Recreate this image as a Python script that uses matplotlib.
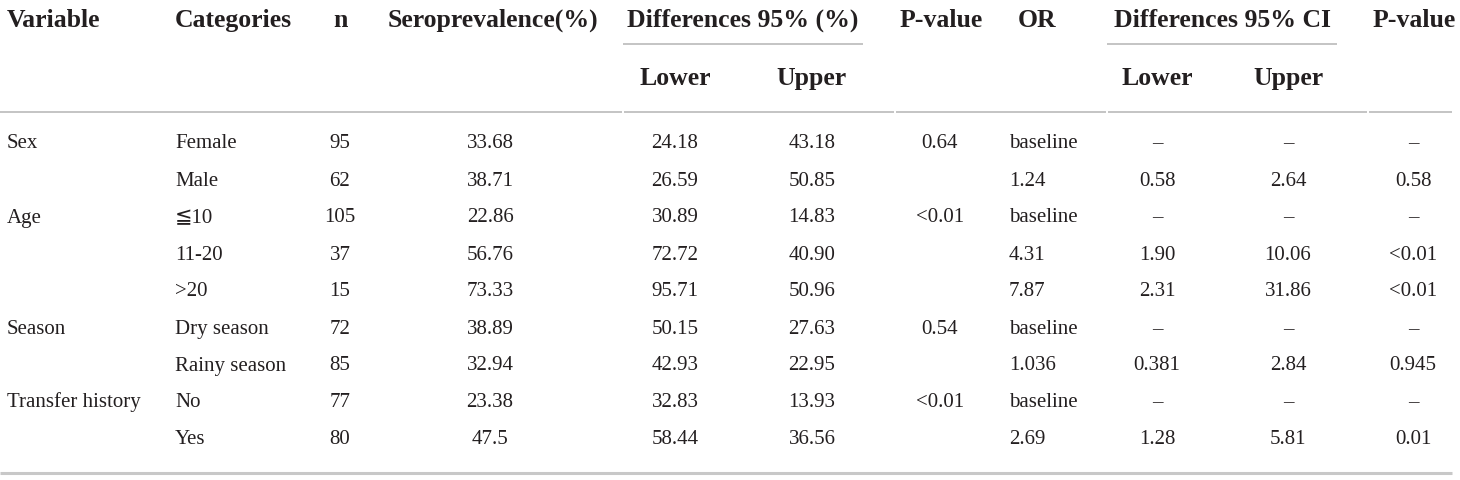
import matplotlib.pyplot as plt

# table contents
variables = ['Sex', '', 'Age', '', '', 'Season', '', 'Transfer history', '']
categories = ['Female', 'Male', '≦10', '11-20', '>20', 'Dry season', 'Rainy season', 'No', 'Yes']
n = ['95', '62', '105', '37', '15', '72', '85', '77', '80']
seroprev = ['33.68', '38.71', '22.86', '56.76', '73.33', '38.89', '32.94', '23.38', '47.5']
diff_lower = ['24.18', '26.59', '30.89', '72.72', '95.71', '50.15', '42.93', '32.83', '58.44']
diff_upper = ['43.18', '50.85', '14.83', '40.90', '50.96', '27.63', '22.95', '13.93', '36.56']
p_value = ['0.64', '', '<0.01', '', '', '0.54', '', '<0.01', '']
odds_ratio = ['baseline', '1.24', 'baseline', '4.31', '7.87', 'baseline', '1.036', 'baseline', '2.69']
ci_lower = ['–', '0.58', '–', '1.90', '2.31', '–', '0.381', '–', '1.28']
ci_upper = ['–', '2.64', '–', '10.06', '31.86', '–', '2.84', '–', '5.81']
p_value2 = ['–', '0.58', '–', '<0.01', '<0.01', '–', '0.945', '–', '0.01']

headers = ['Variable', 'Categories', 'n', 'Seroprevalence(%)', 'Differences 95% (%)',
           'P-value', 'OR', 'Differences 95% CI', 'P-value']
subheaders = ['Lower', 'Upper', 'Lower', 'Upper']

plt.rcParams['font.family'] = ['Liberation Serif', 'DejaVu Serif', 'DejaVu Sans']
ink = '#231f20'
rule = '#b4b4b4'
fs_body = 15
fs_head = 18.5

fig = plt.figure(figsize=(14.6, 4.8), dpi=100)
ax = fig.add_axes([0, 0, 1, 1])
ax.set_xlim(0, 1460)
ax.set_ylim(480, 0)
ax.axis('off')

# column layout: (x, alignment)
cols = [(7, 'left'), (175, 'left'), (340, 'center'), (490, 'center'), (675, 'center'),
        (812, 'center'), (940, 'center'), (1009, 'left'), (1157, 'center'),
        (1288, 'center'), (1413, 'center')]
data = [variables, categories, n, seroprev, diff_lower, diff_upper, p_value,
        odds_ratio, ci_lower, ci_upper, p_value2]

# header row
head_x = [(7, 'left'), (175, 'left'), (340, 'center'), (493, 'center'), (743, 'center'),
          (941, 'center'), (1037, 'center'), (1222, 'center'), (1414, 'center')]
for (x, ha), h in zip(head_x, headers):
    ax.text(x, 27, h, ha=ha, va='baseline', fontsize=fs_head, fontweight='bold', color=ink)
for x, h in zip([675, 811, 1157, 1288], subheaders):
    ax.text(x, 85, h, ha='center', va='baseline', fontsize=fs_head, fontweight='bold', color=ink)

# rules
for x0, x1 in [(623, 863), (1107, 1337)]:
    ax.plot([x0, x1], [44, 44], color=rule, lw=1.1, solid_capstyle='butt')
for x0, x1 in [(0, 622), (624, 894), (896, 1106), (1108, 1367), (1369, 1452)]:
    ax.plot([x0, x1], [111.5, 111.5], color=rule, lw=1.1, solid_capstyle='butt')
ax.plot([0, 1452], [472.5, 472.5], color='#c8c8c8', lw=2.2, solid_capstyle='butt')

# body
row_base = [148, 186, 222.5, 260, 296.5, 334, 370.5, 407, 444]
for (x, ha), col in zip(cols, data):
    for y, val in zip(row_base, col):
        ax.text(x, y, val, ha=ha, va='baseline', fontsize=fs_body, color=ink)

fig.savefig('out.png', dpi=100, facecolor='white')
